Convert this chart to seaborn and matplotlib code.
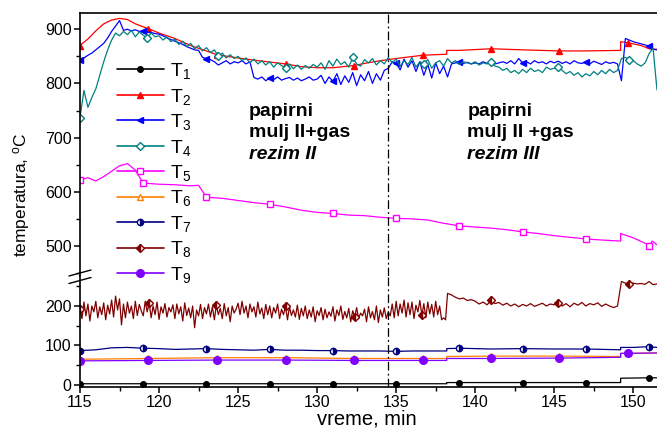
import numpy as np
import matplotlib
matplotlib.use("Agg")
import matplotlib.pyplot as plt
from matplotlib.lines import Line2D
import seaborn as sns

# marker schedules, min
mark_a = [115, 119, 123, 127, 131, 135, 139, 143, 147, 151]
mark_b = [115, 119.33, 123.67, 128, 132.33, 136.67, 141, 145.33, 149.67]

# noisy channels T3, T4 are sampled every 0.25 min from 115 to 151.5
t_grid = np.linspace(115, 151.5, 147)

t3_vals = [843, 847, 852, 856, 862, 868, 874, 884, 896, 906, 916, 898, 900, 897, 899, 896, 897, 895, 894, 892,
           891, 888, 884, 881, 878, 875, 872, 868, 865, 862, 861, 848, 846, 844, 840, 834, 838, 842, 836, 840,
           838, 842, 836, 840, 811, 808, 812, 805, 810, 807, 812, 806, 809, 811, 806, 810, 805, 808, 812, 806,
           808, 815, 800, 812, 804, 818, 798, 814, 802, 820, 796, 816, 805, 822, 800, 818, 806, 824, 828, 840,
           838, 825, 845, 830, 842, 822, 840, 815, 835, 810, 838, 818, 832, 812, 836, 838, 840, 837, 839, 836,
           838, 836, 840, 837, 839, 836, 838, 840, 837, 842, 836, 846, 838, 840, 836, 842, 838, 840, 836, 841,
           838, 841, 837, 840, 836, 842, 838, 837, 840, 836, 841, 838, 835, 840, 837, 839, 836, 805, 883, 880,
           877, 875, 873, 871, 869, 863, 862]

t4_vals = [737, 787, 756, 774, 790, 815, 840, 862, 880, 893, 888, 896, 890, 898, 886, 895, 889, 884, 893, 886,
           888, 880, 886, 877, 882, 872, 878, 868, 874, 864, 870, 860, 866, 857, 862, 850, 856, 847, 853, 846,
           850, 842, 847, 838, 845, 836, 842, 834, 840, 830, 838, 833, 828, 836, 827, 834, 826, 833, 828, 835,
           830, 838, 826, 842, 832, 845, 835, 840, 830, 848, 836, 832, 844, 838, 846, 834, 842, 836, 848, 838,
           845, 832, 842, 835, 848, 830, 840, 836, 844, 828, 838, 842, 832, 846, 838, 842, 835, 840, 838, 836,
           840, 834, 838, 836, 840, 832, 830, 824, 828, 820, 824, 818, 826, 820, 828, 822, 825, 820, 830, 826,
           828, 830, 824, 818, 822, 815, 820, 812, 818, 814, 822, 816, 824, 818, 826, 820, 824, 846, 848, 844,
           842, 836, 832, 838, 855, 865, 788]

# T8: every 0.125 min up to 138.125, then every 0.25 min
t8_time = np.concatenate([np.linspace(115, 138.125, 186), np.linspace(138.25, 151.5, 54)])
t8_vals = [192, 168, 210, 175, 205, 162, 200, 185, 212, 170, 198, 178, 208, 165, 202, 180,
           215, 172, 225, 190, 218, 152, 205, 170, 210, 182, 200, 168, 212, 176, 204, 188,
           175, 212, 185, 208, 170, 200, 178, 210, 166, 198, 182, 206, 172, 196, 185, 203,
           168, 205, 180, 198, 162, 208, 176, 195, 170, 200, 145, 190, 175, 204, 168, 196,
           180, 205, 172, 198, 165, 202, 178, 194, 168, 206, 175, 196, 160, 200, 182, 192,
           207, 178, 212, 182, 200, 170, 205, 185, 198, 172, 210, 180, 195, 168, 204, 178,
           200, 170, 196, 182, 205, 168, 192, 178, 200, 165, 198, 176, 190, 172, 202, 166,
           194, 175, 200, 168, 190, 172, 198, 160, 188, 176, 196, 165, 192, 170, 185, 174,
           198, 162, 190, 176, 200, 166, 186, 170, 194, 160, 188, 172, 196, 168, 182, 175,
           192, 160, 198, 170, 186, 165, 200, 158, 190, 172, 195, 168, 185, 175, 205, 170,
           212, 175, 205, 182, 215, 172, 208, 178, 210, 168, 202, 185, 214, 176, 206, 170,
           210, 180, 204, 172, 212, 178, 200, 165, 170, 165,
           232, 228, 222, 218, 220, 214, 216,
           212, 205, 210, 203, 214, 206, 209, 202, 207, 200, 205, 198, 204, 200, 206, 199, 203, 207, 200, 205,
           203, 208, 200, 206, 198, 207, 202, 209, 200, 206, 203, 208, 199, 205, 200, 196, 200, 262, 258, 256,
           258, 256, 257, 255, 262, 254, 256]

# smooth channels, own time points
t1_time = [115, 119, 123, 127, 131, 135, 138.2, 138.2, 139, 143, 147, 149.2, 149.2, 151, 151.5]
t1_vals = [3, 3, 3, 3, 3, 3, 3, 6, 6, 6, 6, 6, 17, 18, 18]

t2_time = [115, 115.5, 116, 116.5, 117, 117.5, 118, 118.5, 119.33, 120, 121, 122, 123.67, 125, 126, 128,
           129, 130, 131, 132.33, 133, 134, 135, 136.67, 138.2, 138.2, 139, 141, 143, 145.33, 147, 149.2,
           149.2, 149.67, 150.5, 151, 151.5]
t2_vals = [870, 882, 897, 910, 917, 920, 918, 910, 901, 893, 883, 870, 853, 847, 843, 836,
           831, 829, 829, 833, 837, 842, 846, 852, 854, 861, 861, 864, 862, 860, 860, 861,
           877, 875, 870, 864, 863]

t5_time = [115, 115.5, 116, 116.5, 117, 117.5, 118, 118.5, 119, 120, 121, 122, 122.5, 123, 124, 125, 126,
           127, 128, 129, 130, 131, 132, 133, 134, 135, 136, 137, 137.8, 139, 140, 141, 142, 143, 144, 145,
           146, 147, 148, 149.2, 149.2, 150, 150.9, 151, 151.2, 151.5]
t5_vals = [622, 626, 620, 628, 638, 648, 652, 640, 616, 614, 613, 611, 612, 590, 588, 584, 580,
           577, 572, 566, 562, 560, 557, 556, 553, 551, 550, 548, 543, 537, 535, 533, 530, 526, 523, 519,
           516, 513, 511, 509, 523, 515, 503, 500, 509, 502]

t6_time = [115, 119.33, 123.67, 128, 132.33, 136.67, 138.2, 138.2, 141, 145.33, 149.2, 149.2, 149.67, 151.5]
t6_vals = [65, 67, 69, 69, 67, 67, 67, 72, 73, 73, 72, 80, 80, 81]

t7_time = [115, 116, 117, 118, 119, 120, 121, 122, 123, 124, 125, 126, 127, 128, 129, 130, 131, 132, 133,
           134, 135, 136, 137, 138.2, 138.2, 139, 141, 143, 145, 147, 149.2, 149.2, 150, 151, 151.5]
t7_vals = [87, 89, 94, 95, 93, 92, 90, 91, 92, 90, 89, 88, 90, 88, 88, 87, 87, 86, 86,
           86, 85, 86, 86, 86, 92, 93, 91, 92, 91, 91, 89, 95, 95, 97, 95]

t9_time = t6_time
t9_vals = [61, 62, 63, 63, 62, 62, 62, 67, 67, 68, 70, 80, 80, 81]

switch_time = 134.5

sns.set_style("ticks", {"axes.edgecolor": "black", "xtick.color": "black", "ytick.color": "black",
                        "text.color": "black", "axes.labelcolor": "black"})
plt.rcParams["font.family"] = ["Liberation Sans", "DejaVu Sans"]
plt.rcParams["mathtext.default"] = "regular"

W, H = 657, 429
fig = plt.figure(figsize=(W / 100, H / 100), dpi=100)


def px_box(x0, y0, x1, y1):
    return [x0 / W, 1 - y1 / H, (x1 - x0) / W, (y1 - y0) / H]


ax_hi = fig.add_axes(px_box(80, 13, 657, 276))
ax_lo = fig.add_axes(px_box(80, 276, 657, 386.5), sharex=ax_hi)

styles = {
    "T1": dict(color="black", marker="o", ms=4, mfc="black"),
    "T2": dict(color="#ff0000", marker="^", ms=5, mfc="#ff0000"),
    "T3": dict(color="#0000ff", marker="<", ms=5, mfc="#0000ff"),
    "T4": dict(color="#008080", marker="D", ms=4, mfc="white"),
    "T5": dict(color="#ff00ff", marker="s", ms=4.5, mfc="white"),
    "T6": dict(color="#ff8000", marker="^", ms=5, mfc="white"),
    "T7": dict(color="#000080", marker="o", ms=4.5, mfc="#000080", fillstyle="right", mfcalt="white"),
    "T8": dict(color="#800000", marker="D", ms=4.5, mfc="#800000", fillstyle="left", mfcalt="white"),
    "T9": dict(color="#8000ff", marker="o", ms=5.5, mfc="#8000ff"),
}


def draw(ax, name, t, v, marks):
    t = np.asarray(t, dtype=float)
    st = styles[name]
    idx = [int(np.abs(t - m).argmin()) for m in marks]
    sns.lineplot(x=t, y=v, ax=ax, estimator=None, sort=False, lw=0.9,
                 mec=st["color"], mew=1.0, markevery=idx, **st)


draw(ax_hi, "T2", t2_time, t2_vals, mark_b)
draw(ax_hi, "T3", t_grid, t3_vals, mark_a)
draw(ax_hi, "T4", t_grid, t4_vals, mark_b)
draw(ax_hi, "T5", t5_time, t5_vals, mark_a)
draw(ax_lo, "T8", t8_time, t8_vals, mark_b)
draw(ax_lo, "T7", t7_time, t7_vals, mark_a)
draw(ax_lo, "T6", t6_time, t6_vals, mark_b)
draw(ax_lo, "T9", t9_time, t9_vals, mark_b)
draw(ax_lo, "T1", t1_time, t1_vals, mark_a)

for ax in (ax_hi, ax_lo):
    ax.axvline(switch_time, color="black", lw=0.9, ls=(0, (7, 2.5, 1.5, 2.5)))
    ax.set_xlim(115, 151.5)
    ax.spines["right"].set_visible(False)
    for sp in ax.spines.values():
        sp.set_linewidth(1.2)
    ax.tick_params(which="major", direction="out", length=4.5, width=1.1, labelsize=11.5, pad=1.5)
    ax.tick_params(which="minor", direction="out", length=3, width=1.0)
    ax.set_xlabel("")
    ax.set_ylabel("")

ax_hi.set_ylim(444.6, 930)
ax_hi.set_yticks([500, 600, 700, 800, 900])
ax_hi.set_yticks(np.arange(450, 930, 50), minor=True)
ax_hi.spines["bottom"].set_visible(False)
ax_hi.tick_params(axis="x", which="both", bottom=False, labelbottom=False)

ax_lo.set_ylim(-4, 276)
ax_lo.set_yticks([0, 100, 200])
ax_lo.set_yticks([50, 150, 250], minor=True)
ax_lo.spines["top"].set_visible(False)
ax_lo.set_xticks(np.arange(115, 152, 5))
ax_lo.set_xticks(np.arange(117.5, 152, 5), minor=True)

# axis break marks
for y0, y1 in [(276, 270), (283.5, 277.5)]:
    fig.add_artist(Line2D([69 / W, 91 / W], [1 - y0 / H, 1 - y1 / H], color="black", lw=1.0))

fig.text(22 / W, 1 - 195 / H, "temperatura, $^{o}$C", rotation=90, ha="center", va="center", fontsize=12.5)
fig.text(367 / W, 1 - 424.5 / H, "vreme, min", ha="center", va="baseline", fontsize=14.5)

for x, lines in [(125.7, ["papirni", "mulj II+gas", "rezim II"]),
                 (139.5, ["papirni", "mulj II +gas", "rezim III"])]:
    for k, (txt, yb) in enumerate(zip(lines, [740, 700.4, 660.7])):
        ax_hi.text(x, yb, txt, fontsize=14, fontweight="bold", va="baseline", ha="left",
                   fontstyle="italic" if k == 2 else "normal")

handles = []
labels = []
for i in range(1, 10):
    st = dict(styles[f"T{i}"])
    handles.append(Line2D([], [], lw=1.2, mec=st["color"], mew=1.0, **st))
    labels.append(f"T$_{i}$")
fig.legend(handles, labels, loc="center left", bbox_to_anchor=(117 / W, 1 - 173 / H), frameon=False,
           fontsize=14, handlelength=2.4, handletextpad=0.3, labelspacing=0.28, borderpad=0,
           borderaxespad=0, numpoints=1)

fig.savefig("out.png", dpi=100)
